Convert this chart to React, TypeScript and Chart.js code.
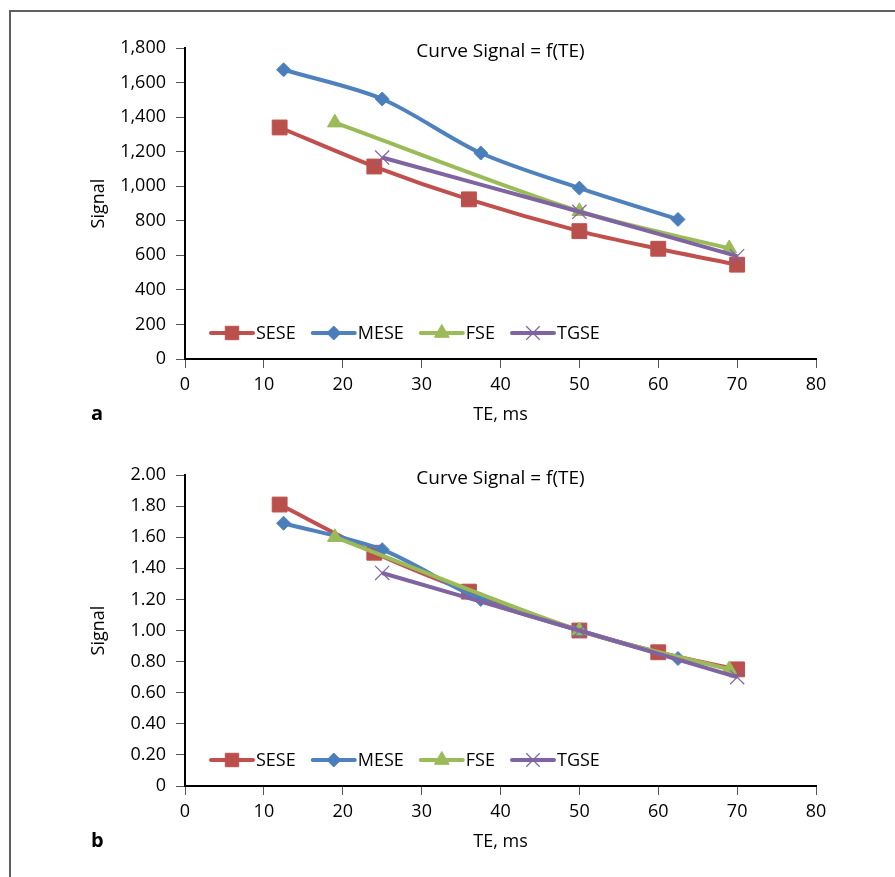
import React, { useEffect, useRef } from 'react';
import { Chart, registerables } from 'chart.js';
import { drawPoint } from 'chart.js/helpers';

Chart.register(...registerables);

// ---- data ----
const TE_SESE = [12, 24, 36, 50, 60, 70];
const TE_MESE = [12.5, 25, 37.5, 50, 62.5];
const TE_FSE = [19, 50, 69];
const TE_TGSE = [25, 50, 70];

const SESE_A = [1340, 1114, 924, 740, 638, 546];
const MESE_A = [1674, 1505, 1192, 989, 808];
const FSE_A = [1368, 855, 640];
const TGSE_A = [1166, 852, 595];

const SESE_B = [1.81, 1.5, 1.25, 1.0, 0.86, 0.75];
const MESE_B = [1.69, 1.52, 1.2, 1.0, 0.82];
const FSE_B = [1.6, 1.0, 0.75];
const TGSE_B = [1.37, 1.0, 0.7];

const SERIES_NAMES = ['SESE', 'MESE', 'FSE', 'TGSE'];
const X_TICK_MAX = 80;
const Y_A_MAX = 1800;
const Y_A_STEP = 200;
const Y_B_MAX = 2;
const Y_B_STEP = 0.2;
const CHART_TITLE = 'Curve Signal = f(TE)';
const X_TITLE = 'TE, ms';
const Y_TITLE = 'Signal';

// ---- styles ----
const STYLES = [
  { color: '#C0504D', fill: '#B9504C', pointStyle: 'rect', radius: 10.5, legendRadius: 9.5, bw: 1 },
  { color: '#4F81BD', fill: '#4A7EBB', pointStyle: 'rectRot', radius: 7, legendRadius: 7, bw: 1 },
  { color: '#9BBB59', fill: '#9BBB59', pointStyle: 'triangle', radius: 8.5, legendRadius: 8.5, bw: 1 },
  { color: '#8064A2', fill: '#8064A2', pointStyle: 'crossRot', radius: 10, legendRadius: 9.5, bw: 1.2 },
];
const FONT = '"Open Sans", sans-serif';
const FS = 18;

function zip(xs: number[], ys: number[]) {
  return xs.map((x, i) => ({ x, y: ys[i] }));
}

function makePlugin(panelLabel: string) {
  return {
    id: 'excelDecor',
    afterDraw(chart: any) {
      const { ctx, chartArea } = chart;
      ctx.save();
      // title inside plot area
      ctx.fillStyle = '#000';
      ctx.font = `${FS + 1}px ${FONT}`;
      ctx.textAlign = 'center';
      ctx.textBaseline = 'middle';
      ctx.fillText(CHART_TITLE, (chartArea.left + chartArea.right) / 2, chartArea.top + 4);

      // panel letter
      ctx.font = `bold 20px ${FONT}`;
      ctx.textAlign = 'left';
      ctx.fillText(panelLabel, chartArea.left - 94, chartArea.bottom + 55);

      // legend inside plot area
      let x = chartArea.left + 26;
      const y = chartArea.bottom - 26;
      ctx.font = `${FS}px ${FONT}`;
      ctx.textBaseline = 'middle';
      chart.data.datasets.forEach((ds: any, i: number) => {
        const st = STYLES[i];
        ctx.strokeStyle = st.color;
        ctx.lineWidth = 4;
        ctx.lineCap = 'round';
        ctx.beginPath();
        ctx.moveTo(x, y);
        ctx.lineTo(x + 42, y);
        ctx.stroke();
        ctx.fillStyle = st.fill;
        ctx.strokeStyle = st.color;
        ctx.lineWidth = st.bw;
        ctx.lineCap = 'butt';
        drawPoint(ctx, { pointStyle: st.pointStyle, radius: st.legendRadius, rotation: 0, borderWidth: st.bw }, x + 21, y);
        ctx.fillStyle = '#000';
        ctx.fillText(ds.label, x + 45, y + 1);
        x += 45 + ctx.measureText(ds.label).width + 17;
      });
      ctx.restore();
    },
  };
}

function makeConfig(panel: 'a' | 'b') {
  const ys = panel === 'a' ? [SESE_A, MESE_A, FSE_A, TGSE_A] : [SESE_B, MESE_B, FSE_B, TGSE_B];
  const xs = [TE_SESE, TE_MESE, TE_FSE, TE_TGSE];
  const datasets = SERIES_NAMES.map((name, i) => ({
    label: name,
    data: zip(xs[i], ys[i]),
    borderColor: STYLES[i].color,
    backgroundColor: STYLES[i].fill,
    pointBackgroundColor: STYLES[i].fill,
    pointBorderColor: STYLES[i].color,
    pointBorderWidth: STYLES[i].bw,
    pointStyle: STYLES[i].pointStyle,
    pointRadius: STYLES[i].radius,
    borderWidth: 4,
    tension: 0.3,
    order: 4 - i,
  }));
  return {
    type: 'line',
    data: { datasets },
    options: {
      animation: false,
      responsive: false,
      events: [],
      layout: {
        padding: { left: 80, right: 79, top: panel === 'a' ? 48 : 35, bottom: panel === 'a' ? 11 : 21 },
      },
      plugins: { legend: { display: false }, tooltip: { enabled: false }, title: { display: false } },
      scales: {
        x: {
          type: 'linear',
          min: 0,
          max: X_TICK_MAX,
          afterFit: (s: any) => { s.height = 70; },
          ticks: { stepSize: 10, autoSkip: false, padding: 6, color: '#000', font: { size: FS, family: FONT } },
          grid: { drawOnChartArea: false, drawTicks: true, tickLength: 9, color: '#555', lineWidth: 1 },
          border: { display: true, color: '#000', width: 2 },
          title: { display: true, text: X_TITLE, color: '#000', font: { size: FS, family: FONT }, padding: { top: 0, bottom: 3 } },
        },
        y: {
          type: 'linear',
          min: 0,
          max: panel === 'a' ? Y_A_MAX : Y_B_MAX,
          afterFit: (s: any) => { s.width = 105; },
          ticks: {
            stepSize: panel === 'a' ? Y_A_STEP : Y_B_STEP,
            autoSkip: false,
            padding: 10,
            color: '#000',
            font: { size: FS, family: FONT },
            callback: (v: any) => {
              const n = Number(v);
              if (panel === 'a') return n.toLocaleString('en-US');
              return n === 0 ? '0' : n.toFixed(2);
            },
          },
          grid: { drawOnChartArea: false, drawTicks: true, tickLength: 9, color: '#555', lineWidth: 1 },
          border: { display: true, color: '#000', width: 2 },
          title: { display: true, text: Y_TITLE, color: '#000', font: { size: FS, family: FONT }, padding: { top: 8, bottom: 0 } },
        },
      },
    },
    plugins: [makePlugin(panel)],
  } as any;
}

function Panel({ panel, top, height }: { panel: 'a' | 'b'; top: number; height: number }) {
  const ref = useRef<HTMLCanvasElement | null>(null);
  useEffect(() => {
    if (!ref.current) return;
    const chart = new Chart(ref.current, makeConfig(panel));
    return () => chart.destroy();
  }, [panel]);
  return (
    <canvas
      ref={ref}
      width={895}
      height={height}
      style={{ position: 'absolute', left: 0, top, width: 895, height }}
    />
  );
}

export default function App() {
  return (
    <div style={{ position: 'absolute', left: 0, top: 0, width: 895, height: 877, overflow: 'hidden', background: '#fff' }}>
      <div
        style={{
          position: 'absolute',
          left: 9,
          top: 10,
          width: 1000,
          height: 1000,
          borderTop: '2px solid #5f5f5f',
          borderLeft: '2px solid #5f5f5f',
        }}
      />
      <Panel panel="a" top={0} height={440} />
      <Panel panel="b" top={440} height={437} />
    </div>
  );
}
